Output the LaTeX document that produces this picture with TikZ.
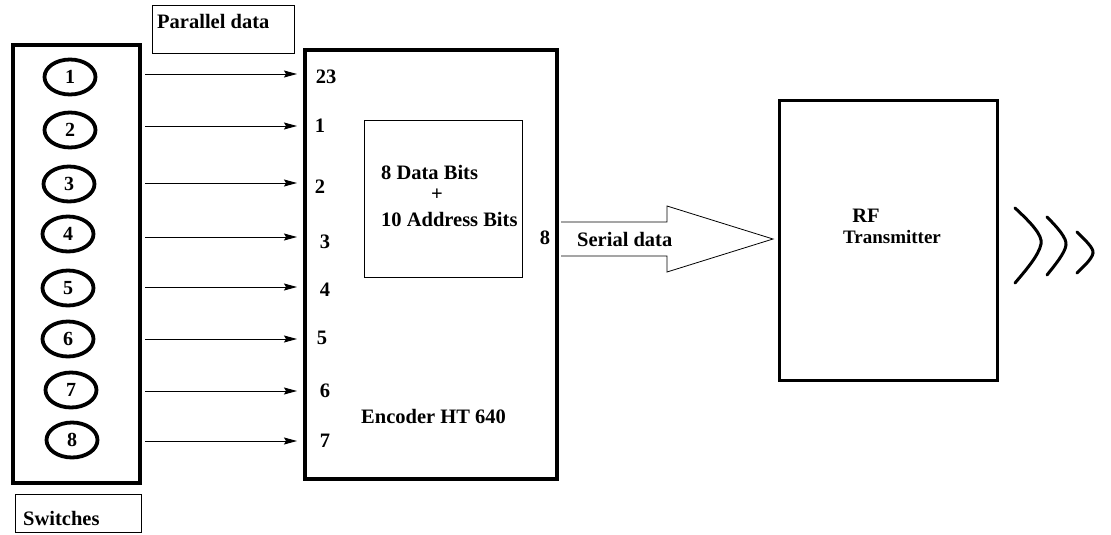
\documentclass[tikz,border=0pt]{standalone}
\usepackage{fontspec}
\setmainfont{Liberation Serif}
\usetikzlibrary{arrows.meta,fit,shapes.geometric}
\begin{document}
\begin{tikzpicture}[x=1pt,y=-1pt,
  txt/.style={font=\fontsize{20.5}{24}\selectfont\bfseries, inner sep=0pt},
  thickbox/.style={draw, line width=4pt, inner sep=0pt},
  thinbox/.style={draw, line width=1pt, inner sep=0pt},
  swell/.style={draw, ellipse, line width=3.8pt, minimum width=51pt, minimum height=35pt, inner sep=0pt, font=\fontsize{20}{24}\selectfont\bfseries},
  arr/.style={line width=0.9pt, -{Stealth[length=13pt,width=7pt,inset=2pt]}},
  wave/.style={line width=3pt, line cap=round}]
\useasboundingbox (0,0) rectangle (1111,535);
\fill[white] (0,0) rectangle (1111,535);

% boxes
\node[thickbox, fit={(13,45)(140,483)}] (sw) {};
\node[thinbox, fit={(152,6)(294,54)}] (pd) {};
\node[thinbox, fit={(15,494)(141,532)}] (swl) {};
\node[thickbox, fit={(305,50)(557,479)}] (enc) {};
\node[thinbox, fit={(364,120)(522,277)}] (inner) {};
\node[line width=3pt, draw, inner sep=0pt, fit={(779,100)(997,380)}] (rf) {};

% labels
\node[txt, anchor=west] (pdt) at (157,21) {Parallel data};
\node[txt, anchor=west] (swt) at (23,518) {Switches};
\node[txt, anchor=west] (db) at (381,172) {8 Data Bits};
\node[txt] (plus) at (437,195) {+};
\node[txt, anchor=west] (ab) at (381,219) {10 Address Bits};
\node[txt] (p8) at (545,238) {8};
\node[txt, anchor=west] (enct) at (361,416) {Encoder HT 640};
\node[txt, anchor=west] (sdt) at (577,239) {Serial data};
\node[txt] (rft) at (866,216) {RF};
\node[font=\fontsize{19}{22}\selectfont\bfseries, inner sep=0pt] (trt) at (892,237) {Transmitter};

% switches
\node[swell] (e1) at (70,77) {1};
\node[swell] (e2) at (70,130) {2};
\node[swell] (e3) at (69,184) {3};
\node[swell] (e4) at (68,234) {4};
\node[swell] (e5) at (68,288) {5};
\node[swell] (e6) at (68,339) {6};
\node[swell] (e7) at (71,390) {7};
\node[swell] (e8) at (72,440) {8};

% pin labels
\node[txt] (q23) at (326,77) {23};
\node[txt] (q1) at (320,126) {1};
\node[txt] (q2) at (320,187) {2};
\node[txt] (q3) at (325,242) {3};
\node[txt] (q4) at (325,290) {4};
\node[txt] (q5) at (322,338) {5};
\node[txt] (q6) at (325,391) {6};
\node[txt] (q7) at (325,441) {7};

% arrows
\foreach \i/\y in {1/74,2/126,3/183,4/237,5/287,6/339,7/391,8/441}{
  \coordinate (s\i) at (145,\y);
  \draw[arr, shorten >=6pt] (s\i) -- (s\i -| enc.west);
}

% serial data arrow
\coordinate (ba) at (561,222);
\coordinate (bb) at (561,256);
\draw[line width=0.8pt, line join=miter] (ba) -- (667,222) -- (667,206) -- (773,239) -- (667,272) -- (667,256) -- (bb);

% waves
\draw[wave] (1015,208) .. controls (1030,222) and (1043,235) .. (1041,244) .. controls (1039,255) and (1026,270) .. (1015,283);
\draw[wave] (1047,217) .. controls (1057,227) and (1067,238) .. (1066,245) .. controls (1065,253) and (1055,265) .. (1047,275);
\draw[wave] (1077,232) .. controls (1084,239) and (1094,248) .. (1093,253) .. controls (1092,259) and (1084,266) .. (1077,273);
\end{tikzpicture}
\end{document}
